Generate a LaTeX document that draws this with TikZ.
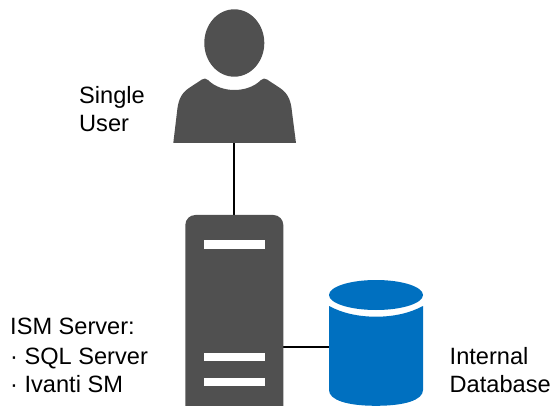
\documentclass[tikz,border=0pt]{standalone}
\usepackage{fontspec}
\setmainfont{Liberation Sans}
\definecolor{darkgrey}{HTML}{505050}
\definecolor{dbblue}{HTML}{0070C0}
\tikzset{
  label text/.style={inner sep=0pt,anchor=north west,align=left,font=\fontsize{23.6}{28}\selectfont},
  link/.style={draw=black,line width=2pt},
  slot/.style={fill=white},
  anchorbox/.style={inner sep=0pt,outer sep=0pt,minimum width=#1}
}
\begin{document}
\begin{tikzpicture}[x=1pt,y=-1pt]
\useasboundingbox (0,0) rectangle (554,406);
% anchor nodes
\node[anchorbox=122.7pt,minimum height=64.5pt] (user) at (234.3,110.75) {};
\node[anchorbox=98pt,minimum height=191pt] (server) at (234.3,310.5) {};
\node[anchorbox=94pt,minimum height=125.7pt] (db) at (376,343) {};
% connectors
\draw[link] (user.south) -- (server.north);
\draw[link] (server.east |- 0,346.7) -- (db.west |- 0,346.7);
% user
\fill[darkgrey] (234.3,43) ellipse [x radius=30,y radius=33.7];
\fill[darkgrey] (173.3,143) -- (177,112)
  .. controls (178,102) and (180,94) .. (189,88)
  -- (202,79.5) .. controls (204,78.2) and (206,78.2) .. (208,80)
  .. controls (215,87) and (225,90) .. (234.3,90)
  .. controls (244,90) and (254,87) .. (261,80)
  .. controls (263,78.2) and (265,78.2) .. (267,79.5)
  -- (280,88) .. controls (289,94) and (291,102) .. (292,112)
  -- (296,143) -- cycle;
% server
\fill[darkgrey,rounded corners=10pt] (185.3,420) -- (185.3,215) -- (283.3,215) -- (283.3,420) -- cycle;
\fill[slot] (204,240) rectangle (264.7,248.7);
\fill[slot] (204,353) rectangle (264.7,361.3);
\fill[slot] (204,377.7) rectangle (264.7,386);
% database
\fill[dbblue] (376,295) ellipse [x radius=47,y radius=15];
\fill[dbblue] (329,306) .. controls (342,313) and (358,316.7) .. (376,316.7)
  .. controls (394,316.7) and (410,313) .. (423,306)
  -- (423,390) .. controls (423,400) and (405,405.8) .. (376,405.8)
  .. controls (347,405.8) and (329,400) .. (329,390) -- cycle;
% labels
\node[label text] (lbluser) at (79,86) {Single\\User};
\node[label text] (lblserver) at (10,318) {ISM Server:\\[2.3pt]· SQL Server\\· Ivanti SM};
\node[label text] (lbldb) at (449.5,347) {Internal\\Database};
\end{tikzpicture}
\end{document}
